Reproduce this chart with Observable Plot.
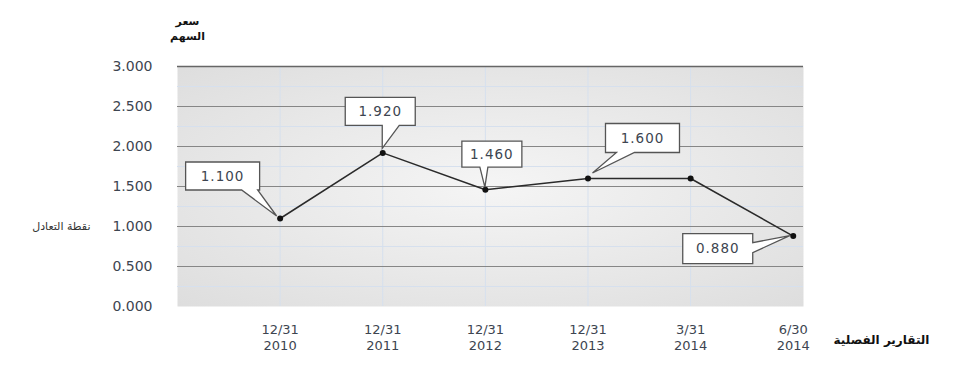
<!DOCTYPE html>
<html><head><meta charset="utf-8">
<script src="https://cdn.jsdelivr.net/npm/d3@7"></script>
<script src="https://cdn.jsdelivr.net/npm/@observablehq/plot@0.6"></script>
<style>body{margin:0;background:#fff} #chart{width:979px;height:367px}</style>
</head><body><div id="chart"></div>
<script>
// ---- data ----
const periods = ["12/31\n2010","12/31\n2011","12/31\n2012","12/31\n2013","3/31\n2014","6/30\n2014"];
const prices = [1.100, 1.920, 1.460, 1.600, 1.600, 0.880];
const calloutLabels = ["1.100","1.920","1.460","1.600",null,"0.880"];
const yTicks = [0, 0.5, 1, 1.5, 2, 2.5, 3];
const minorTicks = [0.25, 0.75, 1.25, 1.75, 2.25, 2.75];
const yTitle = "سعر\nالسهم";
const breakEvenLabel = "نقطة التعادل";
const breakEvenValue = 1.0;
const xTitle = "التقارير الفصلية";

// ---- callout styling (pixel offsets relative to the point) ----
const calloutStyle = [
  {w:74, h:28, dx:-57, dy:-42, side:"bottom", base:[19,35], tip:[-3,-2]},
  {w:70, h:28, dx:-2,  dy:-41, side:"bottom", base:[2,19],  tip:[0,-4]},
  {w:60, h:26, dx:7,   dy:-35, side:"bottom", base:[-12,-4], tip:[0,-2]},
  {w:74, h:29, dx:55,  dy:-40, side:"bottom", base:[-26,-8], tip:[5,-5]},
  null,
  {w:70, h:30, dx:-75, dy:13,  side:"right",  base:[-6,4],  tip:[-3,0]}
];

const data = periods.map((p, k) => ({i: k + 1, period: p, price: prices[k], label: calloutLabels[k]}));
const numColor = "#3d4550";

const plot = Plot.plot({
  width: 979, height: 367,
  marginLeft: 177, marginRight: 176, marginTop: 66, marginBottom: 61,
  x: {type: "linear", domain: [0, 6.1]},
  y: {domain: [0, 3]},
  style: {fontFamily: "DejaVu Sans", background: "white", overflow: "visible"},
  marks: [
    Plot.frame({fill: "url(#bgGrad)", stroke: "none"}),
    Plot.ruleY(minorTicks, {stroke: "#d6e0ee", strokeWidth: 1}),
    Plot.ruleX(data.slice(0, 5), {x: "i", stroke: "#d6e0ee", strokeWidth: 1}),
    Plot.ruleY(yTicks.filter(d => d > 0 && d < 3), {stroke: "#868686", strokeWidth: 1.2}),
    Plot.ruleY([3], {stroke: "#666", strokeWidth: 1.6}),
    Plot.axisY(yTicks, {tickSize: 0, tickPadding: 25, tickFormat: d => d.toFixed(3), fontSize: 14, fill: numColor, label: null, style: {letterSpacing: "1px"}}),
    Plot.axisX(data.map(d => d.i), {tickSize: 0, tickPadding: 15, tickFormat: i => periods[i - 1], fontSize: 13, lineHeight: 1.3, fill: numColor, label: null}),
    Plot.line(data, {x: "i", y: "price", stroke: "#2a2a2a", strokeWidth: 1.5}),
    Plot.dot(data, {x: "i", y: "price", r: 3, fill: "#111", stroke: "none"}),
    Plot.text([yTitle], {frameAnchor: "top-left", textAnchor: "middle", dx: 10, dy: -52, fontSize: 11, fontWeight: "bold", lineHeight: 1.35, fill: "#111"}),
    Plot.text([breakEvenValue], {y: d => d, frameAnchor: "left", text: () => breakEvenLabel, dx: -87, textAnchor: "end", fontSize: 11, fill: "#333"}),
    Plot.text([xTitle], {frameAnchor: "bottom-right", textAnchor: "middle", dx: 78, dy: 37, fontSize: 12, fontWeight: "bold", fill: "#111"})
  ]
});

document.getElementById("chart").appendChild(plot);

// gradient background definition
const svg = d3.select(plot);
const defs = svg.insert("defs", ":first-child");
const grad = defs.append("radialGradient").attr("id", "bgGrad")
  .attr("cx", "0.5").attr("cy", "0.5").attr("r", "0.75");
grad.append("stop").attr("offset", "0").attr("stop-color", "#f5f5f5");
grad.append("stop").attr("offset", "1").attr("stop-color", "#dcdcdc");

// callouts positioned with Plot's own scales
const sx = plot.scale("x"), sy = plot.scale("y");
const g = svg.append("g").attr("class", "callouts");
data.forEach((d, k) => {
  const s = calloutStyle[k];
  if (!s || !d.label) return;
  const px = sx.apply(d.i), py = sy.apply(d.price);
  const cx = px + s.dx, cy = py + s.dy;
  const L = cx - s.w / 2, R = cx + s.w / 2, T = cy - s.h / 2, B = cy + s.h / 2;
  const tx = px + s.tip[0], ty = py + s.tip[1];
  let path;
  if (s.side === "bottom") {
    path = `M${L},${T}H${R}V${B}H${cx + s.base[1]}L${tx},${ty}L${cx + s.base[0]},${B}H${L}Z`;
  } else {
    path = `M${L},${T}H${R}V${cy + s.base[0]}L${tx},${ty}L${R},${cy + s.base[1]}V${B}H${L}Z`;
  }
  g.append("path").attr("d", path).attr("fill", "white").attr("stroke", "#555").attr("stroke-width", 1.3);
  g.append("text").attr("x", cx).attr("y", cy).attr("text-anchor", "middle").attr("dy", "0.36em")
    .attr("font-size", 13.5).attr("letter-spacing", "1").attr("fill", numColor).text(d.label);
});
</script>
</body></html>
